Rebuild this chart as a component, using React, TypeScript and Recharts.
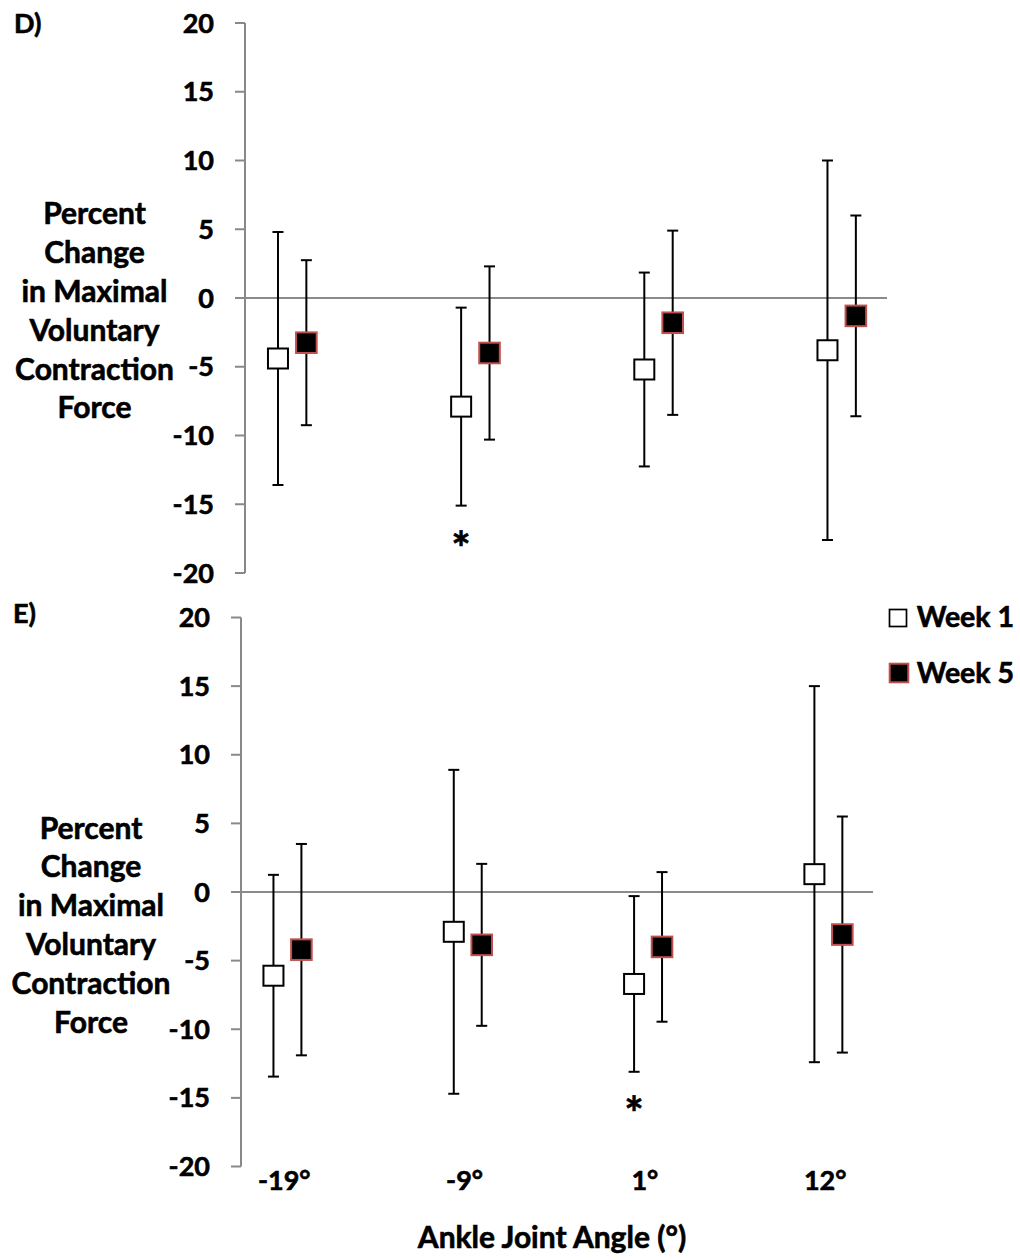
import * as React from "react"
import {
  ScatterChart,
  Scatter,
  XAxis,
  YAxis,
  ErrorBar,
  ReferenceLine,
  ReferenceDot,
} from "recharts"

// ankle joint angles (x categories)
const angleLabels = ["-19°", "-9°", "1°", "12°"]
const yTicks = [-20, -15, -10, -5, 0, 5, 10, 15, 20]

// panel D: percent change, mean and SD
const week1D = [-4.4, -7.9, -5.2, -3.8]
const week1DSd = [9.2, 7.2, 7.05, 13.8]
const week5D = [-3.25, -4.0, -1.8, -1.3]
const week5DSd = [6.0, 6.3, 6.7, 7.3]

// panel E
const week1E = [-6.1, -2.9, -6.7, 1.3]
const week1ESd = [7.35, 11.8, 6.4, 13.7]
const week5E = [-4.2, -3.85, -4.0, -3.1]
const week5ESd = [7.7, 5.9, 5.45, 8.6]

// significance markers: category index + height of the asterisk
const sigD = [{ index: 1, y: -17.6 }]
const sigE = [{ index: 2, y: -15.5 }]

const W1_OFFSET = -0.06
const W5_OFFSET = 0.095
const X_DOMAIN: [number, number] = [-0.24, 3.265]

const FONT = "Lato, 'Open Sans', sans-serif"
const AXIS_GREY = "#898989"
const RED = "#c0504d"
// a thin outline to get closer to the heavy bold of the original
const HEAVY = { stroke: "#000", strokeWidth: 0.6 }

const toPoints = (means: number[], sds: number[], offset: number) =>
  means.map((m, i) => ({ x: i + offset, y: m, sd: sds[i] }))

const WhiteSquare = (props: any) => {
  const { cx, cy } = props
  return <rect x={cx - 10} y={cy - 10} width={20} height={20} fill="#fff" stroke="#000" strokeWidth={2} />
}

const BlackSquare = (props: any) => {
  const { cx, cy } = props
  return <rect x={cx - 10.3} y={cy - 10.3} width={20.6} height={20.6} fill="#000" stroke={RED} strokeWidth={2} />
}

const Asterisk = (props: any) => {
  const { cx, cy } = props
  return (
    <text x={cx} y={cy + 25} textAnchor="middle" fontSize={46} fontWeight={700} fontFamily={FONT} fill="#000" {...HEAVY}>
      *
    </text>
  )
}

interface PanelProps {
  top: number
  height: number
  marginTop: number
  marginBottom: number
  marginRight: number
  axisWidth: number
  week1: number[]
  week1Sd: number[]
  week5: number[]
  week5Sd: number[]
  sig: Array<{ index: number; y: number }>
  showX: boolean
}

const Panel = ({
  top, height, marginTop, marginBottom, marginRight, axisWidth,
  week1, week1Sd, week5, week5Sd, sig, showX,
}: PanelProps) => (
  <div style={{ position: "absolute", left: 0, top }}>
    <ScatterChart
      width={1020}
      height={height}
      margin={{ top: marginTop, right: marginRight, bottom: marginBottom, left: 0 }}
    >
      <XAxis
        type="number"
        dataKey="x"
        domain={X_DOMAIN}
        ticks={[0, 1, 2, 3]}
        tickFormatter={(v: number) => angleLabels[Math.round(v)]}
        hide={!showX}
        height={40}
        axisLine={false}
        tickLine={false}
        tickSize={0}
        tickMargin={4}
        tick={{ fill: "#000", fontSize: 27, fontWeight: 700, fontFamily: FONT, ...HEAVY }}
        allowDataOverflow
      />
      <YAxis
        type="number"
        dataKey="y"
        domain={[-20, 20]}
        ticks={yTicks}
        width={axisWidth}
        axisLine={{ stroke: AXIS_GREY, strokeWidth: 2 }}
        tickLine={{ stroke: AXIS_GREY, strokeWidth: 2 }}
        tickSize={10}
        tickMargin={21}
        tick={{ fill: "#000", fontSize: 27, fontWeight: 700, fontFamily: FONT, ...HEAVY }}
        allowDataOverflow
      />
      <ReferenceLine y={0} stroke="#8a8a8a" strokeWidth={2} />
      <Scatter data={toPoints(week1, week1Sd, W1_OFFSET)} shape={WhiteSquare} isAnimationActive={false}>
        <ErrorBar dataKey="sd" direction="y" width={5.5} stroke="#000" strokeWidth={2} />
      </Scatter>
      <Scatter data={toPoints(week5, week5Sd, W5_OFFSET)} shape={BlackSquare} isAnimationActive={false}>
        <ErrorBar dataKey="sd" direction="y" width={5.5} stroke="#000" strokeWidth={2} />
      </Scatter>
      {sig.map((s) => (
        <ReferenceDot key={s.index} x={s.index + W1_OFFSET} y={s.y} r={0} shape={Asterisk} />
      ))}
    </ScatterChart>
  </div>
)

const yTitle = ["Percent", "Change", "in Maximal", "Voluntary", "Contraction", "Force"]

export default function App() {
  const textStyle = { fontFamily: FONT, fontWeight: 700, fill: "#000", ...HEAVY }
  return (
    <div style={{ position: "absolute", left: 0, top: 0, width: 1020, height: 1260, background: "#fff", fontFamily: FONT }}>
      <Panel
        top={0}
        height={590}
        marginTop={23}
        marginBottom={17}
        marginRight={133}
        axisWidth={245}
        week1={week1D}
        week1Sd={week1DSd}
        week5={week5D}
        week5Sd={week5DSd}
        sig={sigD}
        showX={false}
      />
      <Panel
        top={590}
        height={670}
        marginTop={27.5}
        marginBottom={53.5}
        marginRight={147}
        axisWidth={241}
        week1={week1E}
        week1Sd={week1ESd}
        week5={week5E}
        week5Sd={week5ESd}
        sig={sigE}
        showX={true}
      />
      <svg width={1020} height={1260} style={{ position: "absolute", left: 0, top: 0, pointerEvents: "none" }}>
        <text x={14} y={32.5} fontSize={27} {...textStyle}>D)</text>
        <text x={13} y={623} fontSize={27} {...textStyle}>E)</text>
        {yTitle.map((line, i) => (
          <text key={"d" + i} x={94.5} y={223.9 + i * 38.9} textAnchor="middle" fontSize={30} {...textStyle}>
            {line}
          </text>
        ))}
        {yTitle.map((line, i) => (
          <text key={"e" + i} x={91} y={838.5 + i * 38.9} textAnchor="middle" fontSize={30} {...textStyle}>
            {line}
          </text>
        ))}
        <text x={552} y={1248} textAnchor="middle" fontSize={30} {...textStyle}>
          Ankle Joint Angle (°)
        </text>
        <rect x={889.5} y={609.5} width={17} height={17} fill="#fff" stroke="#000" strokeWidth={1.7} />
        <text x={916.7} y={627.3} fontSize={28.5} {...textStyle}>Week 1</text>
        <rect x={889.7} y={663.7} width={18.6} height={18.6} fill="#000" stroke={RED} strokeWidth={2} />
        <text x={916.7} y={683} fontSize={28.5} {...textStyle}>Week 5</text>
      </svg>
    </div>
  )
}
